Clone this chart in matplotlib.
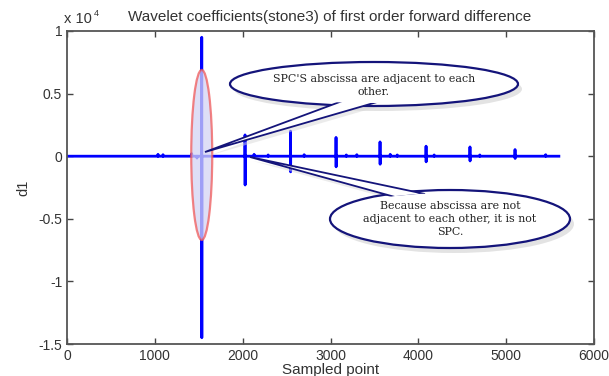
import matplotlib.pyplot as plt
from matplotlib.patches import Ellipse, Polygon

# spikes of the wavelet coefficients (sample index, peak up, peak down)
spike_x = [1534, 2027, 2545, 3063, 3564, 4088, 4588, 5101]
spike_up = [9500, 1700, 2000, 1500, 1140, 800, 740, 530]
spike_down = [-14500, -2300, -1250, -850, -640, -450, -380, -180]

# small blips along the baseline
blip_x = [1036, 1093, 1420, 1480, 2130, 2290, 2700, 3180, 3300, 3680, 3760, 4180, 4700, 5450]
blip_y = [150, 120, 200, -150, 150, 100, 120, 100, 120, 150, 100, 100, 100, 120]

n_samples = 5600

xticks = [0, 1000, 2000, 3000, 4000, 5000, 6000]
yticks = [-1.5, -1, -0.5, 0, 0.5, 1]

# build the signal from the lists above
events = []
for x, u, d in zip(spike_x, spike_up, spike_down):
    events.append((x, [u, d]))
for x, v in zip(blip_x, blip_y):
    events.append((x, [v]))
events.sort()

sig_x = [0]
sig_y = [0]
for x, vals in events:
    sig_x.append(x - 1)
    sig_y.append(0)
    for k, v in enumerate(vals):
        sig_x.append(x + k)
        sig_y.append(v)
    sig_x.append(x + len(vals))
    sig_y.append(0)
sig_x.append(n_samples)
sig_y.append(0)

plt.rcParams['font.family'] = ['Liberation Sans', 'DejaVu Sans']

fig = plt.figure(figsize=(6.09, 3.76), dpi=100)
ax = fig.add_axes([67/609, 32/376, 527/609, 313/376])

ax.plot(sig_x, [v / 1e4 for v in sig_y], color='#0000ff', linewidth=2, zorder=2)

ax.set_xlim(0, 6000)
ax.set_ylim(-1.5, 1)
ax.set_xticks(xticks)
ax.set_yticks(yticks)
ax.set_yticklabels(['%g' % t for t in yticks])
ax.tick_params(direction='in', top=True, right=True, length=4, width=1,
               labelsize=10, colors='#444444', labelcolor='#333333')
for s in ax.spines.values():
    s.set_color('#555555')
    s.set_linewidth(1.3)

ax.set_xlabel('Sampled point', fontsize=11, color='#333333', labelpad=0)
ax.set_ylabel('d1', fontsize=10.5, color='#333333', labelpad=6)

fig.text(330/609, 1 - 17/376, 'Wavelet coefficients(stone3) of first order forward difference',
         ha='center', va='center', fontsize=11, color='#333333')
fig.text(64/609, 1 - 19/376, 'x 10', ha='left', va='center', fontsize=10.5, color='#333333')
fig.text(94/609, 1 - 14/376, '4', ha='left', va='center', fontsize=6.5, color='#333333')


# reference-pixel -> axes fraction
def axp(px, py):
    return ((px - 67) / 527, (344 - py) / 313)


# red ellipse round the main spike
red = Ellipse((spike_x[0], 0.01), width=21 / 527 * 6000, height=170 / 313 * 2.5,
              facecolor='#d4d4f4', edgecolor='#f05a5a', linewidth=1.6, alpha=0.75, zorder=3)
ax.add_patch(red)


def bubble(cx, cy, w, h, tail, lines, ty, z=4):
    c = axp(cx, cy)
    ww, hh = w / 527, h / 313
    tail_pts = [axp(*p) for p in tail]
    # shadow
    sh = Ellipse(axp(cx + 4, cy + 5), ww, hh, transform=ax.transAxes,
                 facecolor='#c8c8c8', edgecolor='none', alpha=0.5, zorder=z)
    ax.add_patch(sh)
    ax.add_patch(Polygon([axp(px + 3, py + 4) for px, py in tail], closed=True,
                         transform=ax.transAxes, facecolor='#d8d8d8',
                         edgecolor='none', alpha=0.5, zorder=z))
    ax.add_patch(Ellipse(c, ww, hh, transform=ax.transAxes, facecolor='white',
                         edgecolor='#14147a', linewidth=1.6, zorder=z + 1))
    ax.add_patch(Polygon(tail_pts, closed=True, transform=ax.transAxes, facecolor='white',
                         edgecolor='#14147a', linewidth=1.3, joinstyle='miter', zorder=z + 2))
    ax.add_patch(Ellipse(c, ww - 6 / 527, hh - 6 / 313, transform=ax.transAxes,
                         facecolor='white', edgecolor='none', zorder=z + 3))
    for i, line in enumerate(lines):
        ax.text(*axp(cx, ty + i * 12.8), line, transform=ax.transAxes, ha='center', va='center',
                fontsize=7.9, color='#222222', family=['DejaVu Serif'],
                zorder=z + 4)


bubble(374, 84, 288, 44, [(205, 152), (345, 100), (384, 100)],
       ["SPC'S abscissa are adjacent to each", 'other.'], 79)
bubble(450, 219, 240, 58, [(250, 157), (395, 197), (425, 194)],
       ['Because abscissa are not', 'adjacent to each other, it is not', 'SPC.'], 206, z=10)

fig.savefig('out.png', dpi=100, facecolor='white')
